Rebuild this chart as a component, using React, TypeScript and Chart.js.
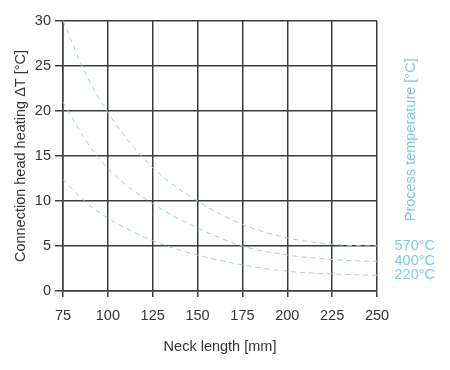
import { useEffect, useRef } from "react";
import { Chart, registerables } from "chart.js";
Chart.register(...registerables);

const neckLength = [75, 87.5, 100, 125, 150, 175, 200, 225, 250, 257];
const heat570 = [30, 24.2, 19.8, 13.7, 10.0, 7.4, 5.9, 5.2, 5.0, 5.0];
const heat400 = [21.0, 16.8, 13.6, 9.7, 7.0, 5.0, 4.0, 3.5, 3.3, 3.3];
const heat220 = [12.4, 9.9, 8.1, 5.6, 4.0, 2.9, 2.2, 1.9, 1.75, 1.75];
const seriesLabels = ["570°C", "400°C", "220°C"];
const xTitle = "Neck length [mm]";
const yTitle = "Connection head heating ΔT [°C]";
const rightTitle = "Process temperature [°C]";

const FONT = "'Liberation Sans', Arial, sans-serif";
const TEXT = "#333333";
const GRID = "#3c3c3c";
const CURVE = "#98d0e2";
const LABEL = "#7fc7ea";

export default function App() {
  const ref = useRef<HTMLCanvasElement>(null);
  useEffect(() => {
    if (!ref.current) return;
    const series = [heat570, heat400, heat220];
    const labelPlugin = {
      id: "endLabels",
      afterDatasetsDraw(chart: any) {
        const ctx = chart.ctx;
        ctx.save();
        ctx.fillStyle = LABEL;
        ctx.font = `14.5px ${FONT}`;
        ctx.textBaseline = "middle";
        ctx.textAlign = "left";
        chart.data.datasets.forEach((_: any, i: number) => {
          const meta = chart.getDatasetMeta(i);
          const pt = meta.data[meta.data.length - 1];
          ctx.fillText(seriesLabels[i], pt.x + 5, pt.y);
        });
        const area = chart.chartArea;
        ctx.translate(area.right + 34, chart.scales.y.getPixelForValue(16.8));
        ctx.rotate(-Math.PI / 2);
        ctx.textAlign = "center";
        ctx.fillText(rightTitle, 0, 0);
        ctx.restore();
      },
    };
    const chart = new Chart(ref.current, {
      type: "line",
      data: {
        datasets: series.map((s, i) => ({
          label: seriesLabels[i],
          data: neckLength.map((x, j) => ({ x, y: s[j] })),
          borderColor: CURVE,
          borderWidth: 1,
          borderDash: [5, 4],
          pointRadius: 0,
          cubicInterpolationMode: "monotone" as const,
          fill: false,
          clip: false as any,
        })),
      },
      options: {
        animation: false,
        responsive: false,
        layout: { padding: { left: 0, right: 73, top: 21, bottom: 0 } },
        plugins: { legend: { display: false }, tooltip: { enabled: false } },
        scales: {
          x: {
            type: "linear",
            min: 75,
            max: 250,
            afterFit: (s: any) => { s.height = 79; },
            ticks: { stepSize: 25, color: TEXT, font: { family: FONT, size: 14.5 }, padding: 10, maxRotation: 0 },
            grid: { color: GRID, lineWidth: 1.5, tickLength: 6 },
            border: { color: GRID, width: 1.5 },
            title: { display: true, text: xTitle, color: TEXT, font: { family: FONT, size: 14.5 }, padding: { top: 0, bottom: 14 } },
          },
          y: {
            min: 0,
            max: 30,
            afterFit: (s: any) => { s.width = 63; },
            ticks: { stepSize: 5, color: TEXT, font: { family: FONT, size: 14.5 }, padding: 4 },
            grid: { color: GRID, lineWidth: 1.5, tickLength: 8 },
            border: { color: GRID, width: 1.5 },
            title: { display: true, text: yTitle, color: TEXT, font: { family: FONT, size: 14.5 }, padding: { top: 12, bottom: 0 } },
          },
        },
      },
      plugins: [labelPlugin],
    });
    return () => chart.destroy();
  }, []);
  return (
    <div style={{ position: "absolute", left: 0, top: 0, width: 450, height: 370 }}>
      <canvas ref={ref} width={450} height={370} style={{ width: 450, height: 370 }} />
    </div>
  );
}
